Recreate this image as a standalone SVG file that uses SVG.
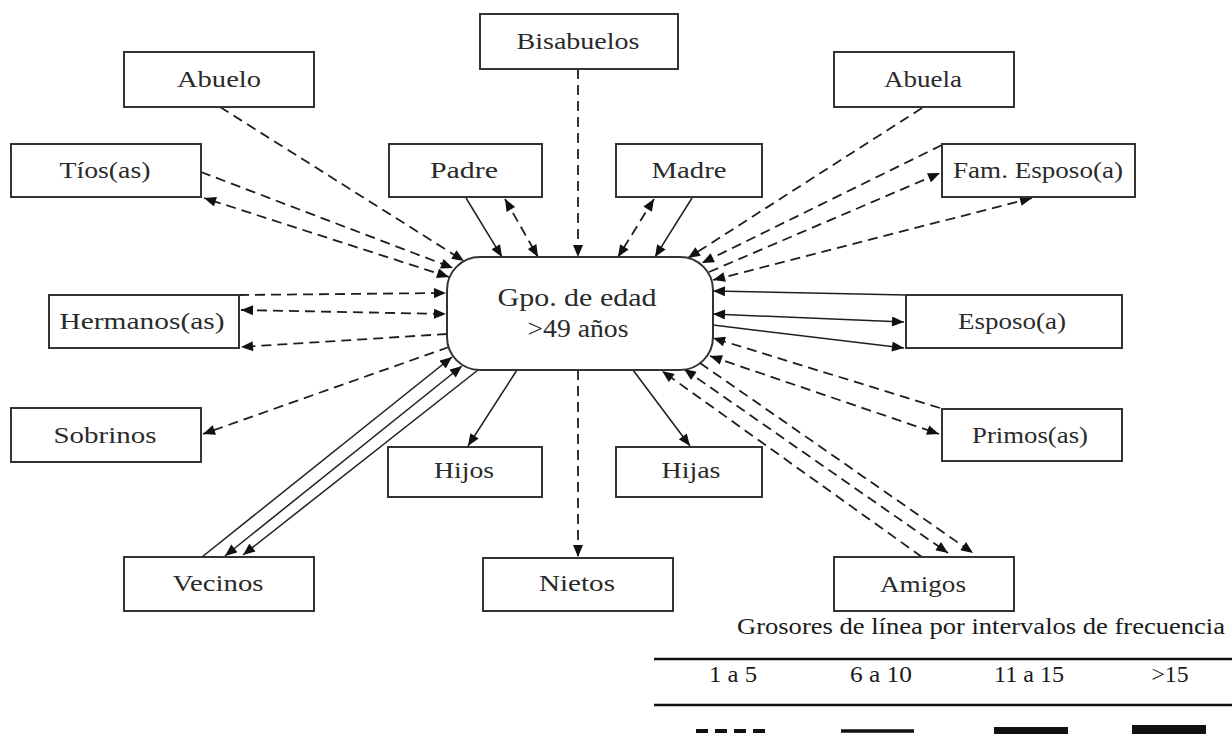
<svg xmlns="http://www.w3.org/2000/svg" width="1232" height="734" viewBox="0 0 1232 734">
  <style>
    .box { fill: #fff; stroke: #333; stroke-width: 2; }
    .hub { fill: #fff; stroke: #333; stroke-width: 2; }
    .lbl { font-family: "Liberation Serif", "Times New Roman", serif; font-size: 24px; fill: #2a2a2a; text-anchor: middle; }
    .hubtxt { font-family: "Liberation Serif", "Times New Roman", serif; font-size: 25px; fill: #2a2a2a; text-anchor: middle; }
    .leg { font-family: "Liberation Serif", "Times New Roman", serif; font-size: 23px; fill: #1a1a1a; text-anchor: middle; }
    .dash { fill: none; stroke: #1e1e1e; stroke-width: 1.8; stroke-dasharray: 10 6; }
    .solid { fill: none; stroke: #1e1e1e; stroke-width: 1.5; }
    .in { marker-end: url(#ah); }
    .bi { marker-start: url(#ah); marker-end: url(#ah); }
  </style>
  <defs>
    <marker id="ah" viewBox="0 0 12 10" refX="12" refY="5" markerWidth="13" markerHeight="10" markerUnits="userSpaceOnUse" orient="auto-start-reverse">
      <path d="M0,0 L12,5 L0,10 z" fill="#111"/>
    </marker>
  </defs>
  <rect width="1232" height="734" fill="#fff"/>

  <!-- connectors -->
  <g id="connectors">
    <!-- top -->
    <path class="dash in" d="M578,69 L578,257"/>
    <path class="solid in" d="M466,198 L502,257"/>
    <path class="dash bi" d="M505,199 L538,257"/>
    <path class="dash bi" d="M654,199 L618,257"/>
    <path class="solid in" d="M692,198 L655,257"/>
    <!-- upper left -->
    <path class="dash in" d="M220,107 L464,261"/>
    <path class="dash in" d="M201,172 L453,268"/>
    <path class="dash bi" d="M449,277 L204,198"/>
    <!-- left -->
    <path class="dash in" d="M239,295 L446,293"/>
    <path class="dash bi" d="M241,310 L446,314"/>
    <path class="dash in" d="M447,334 L241,347"/>
    <path class="dash in" d="M449,347 L203,434"/>
    <!-- lower left -->
    <path class="solid in" d="M202,557 L452,357"/>
    <path class="solid bi" d="M225,556 L462,366"/>
    <path class="solid in" d="M478,370 L243,555"/>
    <!-- bottom -->
    <path class="solid in" d="M517,370 L468,446"/>
    <path class="dash in" d="M578,370 L578,557"/>
    <path class="solid in" d="M633,370 L690,446"/>
    <!-- upper right -->
    <path class="dash in" d="M922,108 L688,258"/>
    <path class="dash in" d="M942,145 L702,263"/>
    <path class="dash in" d="M709,272 L940,173"/>
    <path class="dash bi" d="M713,280 L1032,198"/>
    <!-- right -->
    <path class="solid in" d="M906,295 L713,291"/>
    <path class="solid bi" d="M713,314 L904,322"/>
    <path class="solid in" d="M713,325 L904,348"/>
    <path class="dash in" d="M940,408 L713,338"/>
    <path class="dash bi" d="M710,356 L939,434"/>
    <!-- lower right -->
    <path class="dash in" d="M922,557 L662,371"/>
    <path class="dash bi" d="M684,369 L948,553"/>
    <path class="dash in" d="M700,363 L973,553"/>
  </g>

  <!-- central node -->
  <g id="grupo">
    <rect class="hub" x="447" y="257" width="266" height="113" rx="33" ry="33"/>
    <text class="hubtxt" x="577" y="306" textLength="159" lengthAdjust="spacingAndGlyphs">Gpo. de edad</text>
    <text class="hubtxt" x="578" y="337" textLength="101" lengthAdjust="spacingAndGlyphs">&gt;49 años</text>
  </g>

  <g id="bisabuelos">
    <rect class="box" x="480" y="14" width="198" height="55"/>
    <text class="lbl" x="578" y="49" textLength="123" lengthAdjust="spacingAndGlyphs">Bisabuelos</text>
  </g>
  <g id="abuelo">
    <rect class="box" x="124" y="52" width="190" height="55"/>
    <text class="lbl" x="219" y="87" textLength="84" lengthAdjust="spacingAndGlyphs">Abuelo</text>
  </g>
  <g id="abuela">
    <rect class="box" x="834" y="52" width="180" height="55"/>
    <text class="lbl" x="923" y="87" textLength="78" lengthAdjust="spacingAndGlyphs">Abuela</text>
  </g>
  <g id="tios">
    <rect class="box" x="11" y="144" width="190" height="53"/>
    <text class="lbl" x="105" y="178" textLength="91" lengthAdjust="spacingAndGlyphs">Tíos(as)</text>
  </g>
  <g id="padre">
    <rect class="box" x="389" y="144" width="153" height="53"/>
    <text class="lbl" x="464" y="178" textLength="68" lengthAdjust="spacingAndGlyphs">Padre</text>
  </g>
  <g id="madre">
    <rect class="box" x="616" y="144" width="146" height="53"/>
    <text class="lbl" x="689" y="178" textLength="75" lengthAdjust="spacingAndGlyphs">Madre</text>
  </g>
  <g id="fam-esposo">
    <rect class="box" x="942" y="144" width="193" height="53"/>
    <text class="lbl" x="1038" y="178" textLength="170" lengthAdjust="spacingAndGlyphs">Fam. Esposo(a)</text>
  </g>
  <g id="hermanos">
    <rect class="box" x="49" y="295" width="190" height="53"/>
    <text class="lbl" x="142" y="329" textLength="165" lengthAdjust="spacingAndGlyphs">Hermanos(as)</text>
  </g>
  <g id="esposo">
    <rect class="box" x="906" y="295" width="216" height="53"/>
    <text class="lbl" x="1012" y="329" textLength="108" lengthAdjust="spacingAndGlyphs">Esposo(a)</text>
  </g>
  <g id="sobrinos">
    <rect class="box" x="11" y="408" width="190" height="54"/>
    <text class="lbl" x="105" y="443" textLength="103" lengthAdjust="spacingAndGlyphs">Sobrinos</text>
  </g>
  <g id="primos">
    <rect class="box" x="942" y="409" width="180" height="52"/>
    <text class="lbl" x="1030" y="443" textLength="116" lengthAdjust="spacingAndGlyphs">Primos(as)</text>
  </g>
  <g id="hijos">
    <rect class="box" x="388" y="447" width="154" height="50"/>
    <text class="lbl" x="464" y="478" textLength="60" lengthAdjust="spacingAndGlyphs">Hijos</text>
  </g>
  <g id="hijas">
    <rect class="box" x="616" y="447" width="146" height="50"/>
    <text class="lbl" x="691" y="478" textLength="59" lengthAdjust="spacingAndGlyphs">Hijas</text>
  </g>
  <g id="vecinos">
    <rect class="box" x="124" y="557" width="190" height="54"/>
    <text class="lbl" x="218" y="591" textLength="91" lengthAdjust="spacingAndGlyphs">Vecinos</text>
  </g>
  <g id="nietos">
    <rect class="box" x="483" y="558" width="190" height="53"/>
    <text class="lbl" x="577" y="591" textLength="76" lengthAdjust="spacingAndGlyphs">Nietos</text>
  </g>
  <g id="amigos">
    <rect class="box" x="834" y="557" width="180" height="54"/>
    <text class="lbl" x="923" y="592" textLength="86" lengthAdjust="spacingAndGlyphs">Amigos</text>
  </g>

  <!-- line-weight legend -->
  <g id="leyenda">
    <text class="leg" x="981" y="634" textLength="488" lengthAdjust="spacingAndGlyphs">Grosores de línea por intervalos de frecuencia</text>
    <line x1="654" y1="659" x2="1232" y2="659" stroke="#111" stroke-width="2.6"/>
    <text class="leg" x="733" y="682" textLength="48" lengthAdjust="spacingAndGlyphs">1 a 5</text>
    <text class="leg" x="881" y="682" textLength="62" lengthAdjust="spacingAndGlyphs">6 a 10</text>
    <text class="leg" x="1029" y="682" textLength="70" lengthAdjust="spacingAndGlyphs">11 a 15</text>
    <text class="leg" x="1170" y="682" textLength="37" lengthAdjust="spacingAndGlyphs">&gt;15</text>
    <line x1="654" y1="705" x2="1232" y2="705" stroke="#111" stroke-width="2.6"/>
    <line x1="696" y1="731" x2="766" y2="731" stroke="#111" stroke-width="4" stroke-dasharray="12 7"/>
    <line x1="841" y1="731" x2="914" y2="731" stroke="#111" stroke-width="3.5"/>
    <rect x="994" y="727" width="74" height="8" fill="#111"/>
    <rect x="1132" y="725" width="74" height="10" fill="#111"/>
  </g>
</svg>
